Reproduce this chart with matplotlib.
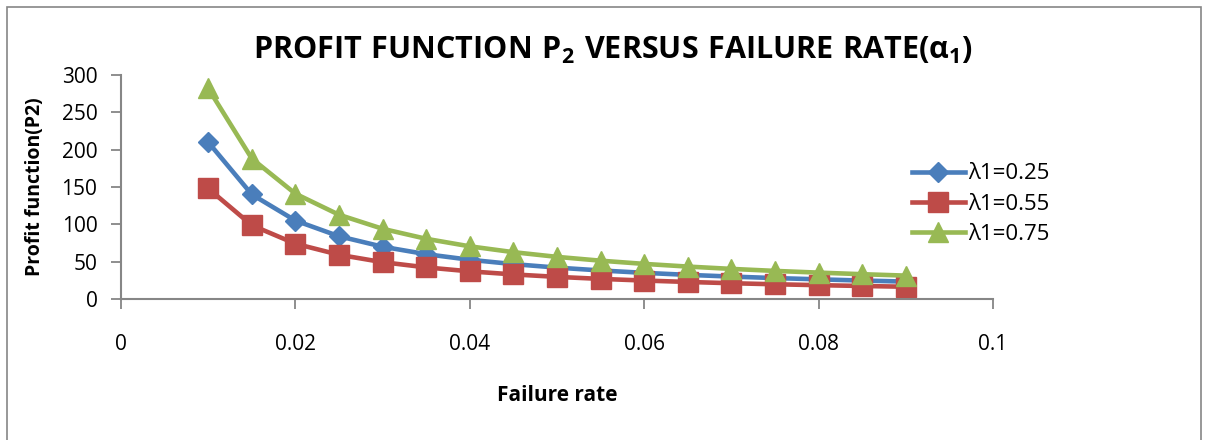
import matplotlib
matplotlib.use("Agg")
import matplotlib.pyplot as plt
from matplotlib.patches import Rectangle

plt.rcParams['font.family'] = ['Open Sans', 'DejaVu Sans']
plt.rcParams['mathtext.fontset'] = 'custom'
plt.rcParams['mathtext.rm'] = 'Open Sans'
plt.rcParams['mathtext.bf'] = 'Open Sans:bold'

# failure rate (alpha1) and profit P2 for three lambda1 values
failure_rate = [0.01, 0.015, 0.02, 0.025, 0.03, 0.035, 0.04, 0.045, 0.05,
                0.055, 0.06, 0.065, 0.07, 0.075, 0.08, 0.085, 0.09]
p2_l025 = [210, 140, 105, 84, 70, 60, 52.5, 46.7, 42, 38.2, 35, 32.3, 30,
           28, 26.3, 24.7, 23.3]
p2_l055 = [148, 98.7, 74, 59.2, 49.3, 42.3, 37, 32.9, 29.6, 26.9, 24.7,
           22.8, 21.1, 19.7, 18.5, 17.4, 16.4]
p2_l075 = [282, 188, 141, 112.8, 94, 80.6, 70.5, 62.7, 56.4, 51.3, 47,
           43.4, 40.3, 37.6, 35.3, 33.2, 31.3]
labels = ['λ1=0.25', 'λ1=0.55', 'λ1=0.75']

fig = plt.figure(figsize=(12.08, 4.4), dpi=100)
ax = fig.add_axes([0.1002, 0.3205, 0.7218, 0.509])

ax.plot(failure_rate, p2_l025, color='#4A7EBB', lw=3.3, marker='D', ms=10.5,
        label=labels[0])
ax.plot(failure_rate, p2_l055, color='#BE4B48', lw=3.3, marker='s', ms=14,
        label=labels[1])
ax.plot(failure_rate, p2_l075, color='#98B954', lw=3.3, marker='^', ms=14.5,
        label=labels[2])

ax.set_xlim(0, 0.1)
ax.set_ylim(0, 300)
ax.set_xticks([0, 0.02, 0.04, 0.06, 0.08, 0.1])
ax.set_xticklabels(['0', '0.02', '0.04', '0.06', '0.08', '0.1'])
ax.set_yticks(range(0, 301, 50))

for s in ['top', 'right']:
    ax.spines[s].set_visible(False)
for s in ['left', 'bottom']:
    ax.spines[s].set_color('#868686')
    ax.spines[s].set_linewidth(1.5)
ax.tick_params(axis='both', colors='#868686', labelcolor='black',
               labelsize=15, length=7, width=1.3)
ax.tick_params(axis='x', pad=18)
ax.tick_params(axis='y', pad=10)

ax.set_xlabel('Failure rate', fontsize=15, fontweight='bold', labelpad=22)
ax.set_ylabel('Profit function(P2)', fontsize=14, fontweight='bold',
              labelpad=12)

fig.text(0.507, 0.885,
         r'$\mathbf{PROFIT\ FUNCTION\ P_2\ VERSUS\ FAILURE\ RATE(\alpha_1)}$',
         ha='center', va='center', fontsize=22)

ax.legend(loc='center left', bbox_to_anchor=(0.7455, 0.536),
          bbox_transform=fig.transFigure, frameon=False, fontsize=16,
          handlelength=2.4, borderpad=0, labelspacing=0.42, handletextpad=0.13)

fig.patches.append(Rectangle((7 / 1208, -0.05), 1194 / 1208, 1 - 7 / 440 + 0.05,
                             transform=fig.transFigure, fill=False,
                             edgecolor='#868686', lw=1.2))

fig.savefig('out.png', dpi=100)
